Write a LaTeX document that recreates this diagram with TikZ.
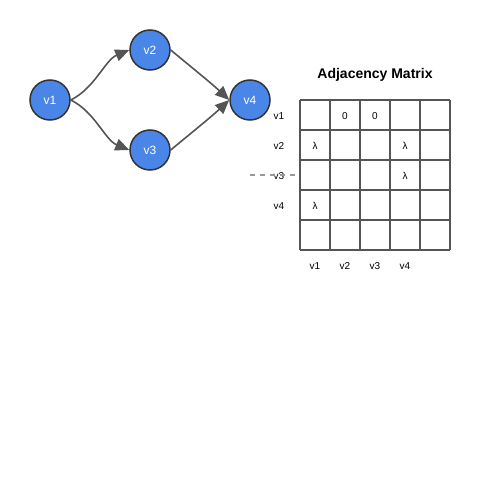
\documentclass[tikz,border=0pt]{standalone}
\usepackage{fontspec}
\setmainfont{Liberation Sans}
\usetikzlibrary{arrows.meta}

\definecolor{nodeblue}{HTML}{4A86E8}
\definecolor{edgegray}{HTML}{555555}

\begin{document}
\begin{tikzpicture}[x=1pt,y=-1pt,
    vertex/.style={circle,draw=black!80,fill=nodeblue,line width=1.5pt,
      minimum size=40pt,inner sep=0pt,text=white,font=\fontsize{12}{14}\selectfont},
    edge/.style={draw=edgegray,line width=1.6pt,-{Triangle[length=14pt,width=12pt]}},
    lbl/.style={font=\fontsize{10}{12}\selectfont,inner sep=0pt}]
    \useasboundingbox (0,0) rectangle (500,500);
    % Varfurile grafului
    \node[vertex] (v1) at (50,100) {v1};
    \node[vertex] (v2) at (150,50) {v2};
    \node[vertex] (v3) at (150,150) {v3};
    \node[vertex] (v4) at (250,100) {v4};
    % Muchii
    \draw[edge] (v1.east) .. controls (95,88) and (105,60) .. (v2.west);
    \draw[edge] (v1.east) .. controls (95,112) and (105,140) .. (v3.west);
    \draw[edge] (v2.east) .. controls (185,62) and (210,82) .. (v4.west);
    \draw[edge] (v3.east) .. controls (185,138) and (210,118) .. (v4.west);
    % Matricea de adiacenta
    \node[font=\bfseries\fontsize{14}{16}\selectfont] (mtitle) at (375,75) {Adjacency Matrix};
    \foreach \k in {0,...,5} {
      \draw[edgegray,line width=1.2pt] (300+30*\k,100) -- (300+30*\k,250);
      \draw[edgegray,line width=1.2pt] (300,100+30*\k) -- (450,100+30*\k);
    }
    % Etichete
    \foreach \i in {1,...,4} {
      \node[lbl] (r\i) at (279,86+30*\i) {v\i};
      \node[lbl] (c\i) at (285+30*\i,266) {v\i};
    }
    \coordinate (dashstart) at (250,175);
    \draw[black!40,line width=1.2pt,dash pattern=on 5pt off 5pt] (dashstart) -- (295,175);
    % Valori
    \node[lbl] (a12) at (345,116) {0};
    \node[lbl] (a13) at (375,116) {0};
    \node[lbl] (a21) at (315,146) {λ};
    \node[lbl] (a24) at (405,146) {λ};
    \node[lbl] (a34) at (405,176) {λ};
    \node[lbl] (a41) at (315,206) {λ};
\end{tikzpicture}
\end{document}
